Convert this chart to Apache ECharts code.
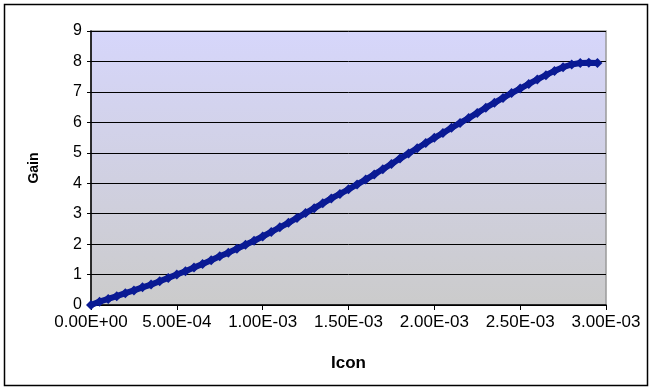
<!DOCTYPE html>
<html>
<head>
<meta charset="utf-8">
<script src="https://cdn.jsdelivr.net/npm/echarts@6/dist/echarts.min.js"></script>
<style>
  html, body { margin: 0; padding: 0; background: #fff; }
  #chart { width: 652px; height: 391px; }
</style>
</head>
<body>
<div id="chart"></div>
<script>
// Control current (Icon) and measured gain
const icon = [
  0.00000, 0.00005, 0.00010, 0.00015, 0.00020, 0.00025, 0.00030, 0.00035, 0.00040, 0.00045,
  0.00050, 0.00055, 0.00060, 0.00065, 0.00070, 0.00075, 0.00080, 0.00085, 0.00090, 0.00095,
  0.00100, 0.00105, 0.00110, 0.00115, 0.00120, 0.00125, 0.00130, 0.00135, 0.00140, 0.00145,
  0.00150, 0.00155, 0.00160, 0.00165, 0.00170, 0.00175, 0.00180, 0.00185, 0.00190, 0.00195,
  0.00200, 0.00205, 0.00210, 0.00215, 0.00220, 0.00225, 0.00230, 0.00235, 0.00240, 0.00245,
  0.00250, 0.00255, 0.00260, 0.00265, 0.00270, 0.00275, 0.00280, 0.00285, 0.00290, 0.00295
];
const gain = [
  0.00, 0.11, 0.20, 0.29, 0.39, 0.48, 0.58, 0.67, 0.78, 0.89,
  1.00, 1.11, 1.23, 1.35, 1.47, 1.60, 1.72, 1.85, 1.98, 2.11,
  2.25, 2.40, 2.55, 2.70, 2.86, 3.02, 3.18, 3.34, 3.50, 3.65,
  3.80, 3.96, 4.12, 4.29, 4.46, 4.63, 4.81, 4.98, 5.15, 5.32,
  5.49, 5.65, 5.82, 5.98, 6.14, 6.31, 6.48, 6.64, 6.80, 6.96,
  7.11, 7.26, 7.41, 7.55, 7.69, 7.81, 7.90, 7.95, 7.96, 7.95
];
const xTickLabels = ['0.00E+00', '5.00E-04', '1.00E-03', '1.50E-03', '2.00E-03', '2.50E-03', '3.00E-03'];
const yTickLabels = ['0', '1', '2', '3', '4', '5', '6', '7', '8', '9'];

const X_STEP = 0.0005;
const FONT = 'Liberation Sans, Arial, sans-serif';

const chart = echarts.init(document.getElementById('chart'), null, { renderer: 'canvas' });

chart.setOption({
  animation: false,
  backgroundColor: '#ffffff',
  graphic: [{
    type: 'rect',
    shape: { x: 4.5, y: 4.5, width: 643, height: 381 },
    style: { fill: 'none', stroke: '#000000', lineWidth: 1.5 },
    z: 100
  }],
  grid: {
    left: 91, right: 46, top: 31, bottom: 86,
    show: true,
    borderColor: '#9a9a9a',
    borderWidth: 1.5,
    backgroundColor: new echarts.graphic.LinearGradient(0, 0, 0, 1, [
      { offset: 0, color: '#d6d6fb' },
      { offset: 1, color: '#cbcbcb' }
    ])
  },
  xAxis: {
    type: 'value',
    min: 0, max: 0.003, interval: X_STEP,
    name: 'Icon',
    nameLocation: 'middle',
    nameGap: 50,
    nameTextStyle: { fontFamily: FONT, fontSize: 17, fontWeight: 'bold', color: '#000' },
    axisLine: { show: true, onZero: false, lineStyle: { color: '#000', width: 1.5 } },
    axisTick: { show: true, length: 5, lineStyle: { color: '#000', width: 1 } },
    axisLabel: {
      fontFamily: FONT, fontSize: 17, color: '#000', margin: 9,
      formatter: v => xTickLabels[Math.round(v / X_STEP)]
    },
    splitLine: { show: false }
  },
  yAxis: {
    type: 'value',
    min: 0, max: 9, interval: 1,
    name: 'Gain',
    nameLocation: 'middle',
    nameGap: 50,
    nameRotate: 90,
    nameTextStyle: { fontFamily: FONT, fontSize: 14, fontWeight: 'bold', color: '#000' },
    axisLine: { show: true, onZero: false, lineStyle: { color: '#000', width: 1.5 } },
    axisTick: { show: true, length: 4, lineStyle: { color: '#000', width: 1 } },
    axisLabel: {
      fontFamily: FONT, fontSize: 16, color: '#000', margin: 9,
      formatter: v => yTickLabels[Math.round(v)]
    },
    splitLine: { show: true, lineStyle: { color: '#000', width: 1 } }
  },
  series: [{
    type: 'line',
    data: icon.map((x, i) => [x, gain[i]]),
    symbol: 'diamond',
    symbolSize: 10,
    showAllSymbol: true,
    lineStyle: { color: '#0a1a94', width: 6 },
    itemStyle: { color: '#0a1a94', borderWidth: 0 },
    z: 5
  }]
});
</script>
</body>
</html>
